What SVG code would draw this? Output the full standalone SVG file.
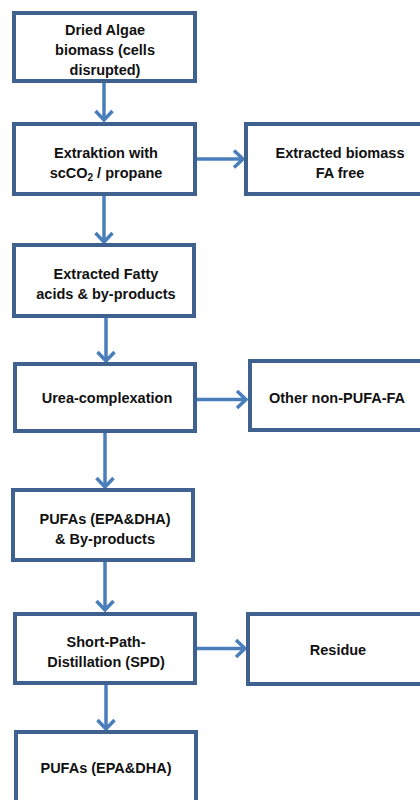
<svg xmlns="http://www.w3.org/2000/svg" width="420" height="800" viewBox="0 0 420 800">
<defs>
<style>
.box{fill:#ffffff;stroke:#3E6190;stroke-width:4}
.lbl{font-family:"Liberation Sans",Arial,sans-serif;font-weight:bold;font-size:14.5px;fill:#111111;text-anchor:middle}
.con{stroke:#4A7EBB;stroke-width:3.5;fill:none}
</style>
<marker id="arr" markerUnits="userSpaceOnUse" viewBox="-14 -12 18 24" refX="0" refY="0" markerWidth="18" markerHeight="24" orient="auto">
<path d="M-9,-8.5 L0,0 L-9,8.5" fill="none" stroke="#4A7EBB" stroke-width="3.5" stroke-linejoin="miter"/>
</marker>
</defs>
<rect width="420" height="800" fill="#ffffff"/>
<g id="connectors">
<line class="con" x1="104" y1="83" x2="104" y2="120" marker-end="url(#arr)"/>
<line class="con" x1="197" y1="159" x2="243" y2="159" marker-end="url(#arr)"/>
<line class="con" x1="104" y1="196" x2="104" y2="242" marker-end="url(#arr)"/>
<line class="con" x1="106" y1="317" x2="106" y2="361" marker-end="url(#arr)"/>
<line class="con" x1="197" y1="399.5" x2="246" y2="399.5" marker-end="url(#arr)"/>
<line class="con" x1="105" y1="433" x2="105" y2="487" marker-end="url(#arr)"/>
<line class="con" x1="105" y1="562" x2="105" y2="610" marker-end="url(#arr)"/>
<line class="con" x1="197" y1="648.5" x2="245" y2="648.5" marker-end="url(#arr)"/>
<line class="con" x1="106" y1="685" x2="106" y2="729" marker-end="url(#arr)"/>
</g>
<g id="n1"><rect class="box" x="14" y="13" width="181" height="68"/>
<text class="lbl" x="105" y="35">Dried Algae</text>
<text class="lbl" x="105" y="55">biomass (cells</text>
<text class="lbl" x="105" y="75">disrupted)</text></g>
<g id="n2"><rect class="box" x="14" y="124" width="181" height="70"/>
<text class="lbl" x="106" y="158">Extraktion with</text>
<text class="lbl" x="106" y="178">scCO<tspan font-size="10" dy="3">2</tspan><tspan dy="-3"> / propane</tspan></text></g>
<g id="n3"><rect class="box" x="246" y="124" width="182" height="70"/>
<text class="lbl" x="340" y="158">Extracted biomass</text>
<text class="lbl" x="340" y="178">FA free</text></g>
<g id="n4"><rect class="box" x="14" y="245" width="180" height="71"/>
<text class="lbl" x="106" y="279">Extracted Fatty</text>
<text class="lbl" x="106" y="299">acids &amp; by-products</text></g>
<g id="n5"><rect class="box" x="15" y="364" width="180" height="67"/>
<text class="lbl" x="107" y="403">Urea-complexation</text></g>
<g id="n6"><rect class="box" x="250" y="361" width="180" height="69"/>
<text class="lbl" x="337" y="403">Other non-PUFA-FA</text></g>
<g id="n7"><rect class="box" x="13" y="490" width="180" height="70"/>
<text class="lbl" x="105" y="524">PUFAs (EPA&amp;DHA)</text>
<text class="lbl" x="105" y="544">&amp; By-products</text></g>
<g id="n8"><rect class="box" x="15" y="614" width="180" height="69"/>
<text class="lbl" x="106" y="647">Short-Path-</text>
<text class="lbl" x="106" y="667">Distillation (SPD)</text></g>
<g id="n9"><rect class="box" x="248" y="614" width="180" height="70"/>
<text class="lbl" x="338" y="655">Residue</text></g>
<g id="n10"><rect class="box" x="16" y="732" width="180" height="100"/>
<text class="lbl" x="106" y="773">PUFAs (EPA&amp;DHA)</text></g>
</svg>
